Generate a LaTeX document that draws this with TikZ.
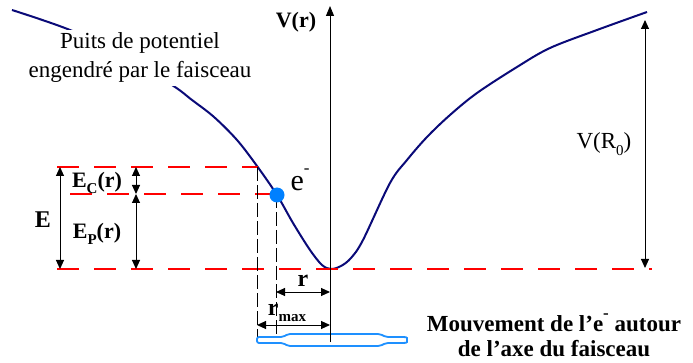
\documentclass[tikz,border=0pt]{standalone}
\usepackage{fontspec}
\setmainfont{LiberationSerif}[Extension=.ttf, UprightFont=*-Regular, BoldFont=*-Bold, ItalicFont=*-Italic, BoldItalicFont=*-BoldItalic]
\usetikzlibrary{arrows.meta,shapes.geometric}
\definecolor{navy}{RGB}{10,10,120}
\definecolor{dotblue}{RGB}{0,128,255}
\definecolor{ellblue}{RGB}{30,144,255}
\newcommand\lowsub[1]{\raisebox{-0.28em}{\fontsize{15}{15}\selectfont #1}}
\newcommand\highsup[1]{\raisebox{0.55em}{\fontsize{17}{17}\selectfont #1}}
\begin{document}
\begin{tikzpicture}[x=1pt,y=-1pt,
  redline/.style={red, line width=2.5pt, dash pattern=on 22pt off 15pt},
  guide/.style={black, line width=0.9pt, dash pattern=on 14pt off 4pt},
  dimarrow/.style={{Triangle[length=9pt,width=8pt]}-{Triangle[length=9pt,width=8pt]}, line width=1pt},
  lbl/.style={inner sep=0pt, font=\bfseries\fontsize{22}{24}\selectfont},
  rlbl/.style={inner sep=0pt, font=\fontsize{23}{24}\selectfont}]
\useasboundingbox (0,0) rectangle (693,363);
% potential curve
\draw[navy, line width=2pt, line join=round] plot[smooth, tension=0.55] coordinates {
 (12,10) (70,30) (122,55) (172,85) (192,100) (214,117) (237,140) (257,166) (277,195)
 (293,223) (310,250) (322,265) (331,269) (341,266) (351,258) (363,240) (390,183)
 (407,160) (427,137) (450,115) (477,93) (517,67) (550,48) (597,30) (647,12)};
\node[fill=white, inner sep=3pt, align=center, font=\fontsize{23}{29}\selectfont] (puits) at (140,58)
  {Puits de potentiel\\engendré par le faisceau};
% red dashed levels
\coordinate (R1a) at (57,167); \coordinate (R1b) at (258,167);
\coordinate (R2a) at (70,194); \coordinate (R2b) at (275,194);
\coordinate (R3a) at (57,269); \coordinate (R3b) at (652,269);
\draw[redline] (R1a) -- (R1b);
\draw[redline] (R2a) -- (R2b);
\draw[redline] (R3a) -- (R3b);
% guides
\coordinate (G1a) at (257,167); \coordinate (G1b) at (257,340);
\coordinate (G2a) at (276,194); \coordinate (G2b) at (276,336);
\draw[guide] (G1a) -- (G1b);
\draw[guide] (G2a) -- (G2b);
% orbit of the electron round the beam axis
\draw[ellblue, line width=1.8pt, rounded corners=2pt]
  (257,337) -- (283,337) -- (288,334) -- (380,334) -- (386,337) -- (400,337)
  to[out=0,in=90] (407,340) to[out=-90,in=0] (400,343) -- (386,343) -- (380,346)
  -- (288,346) -- (283,343) -- (257,343) -- cycle;
% axis
\coordinate (axb) at (330,342); \coordinate (axt) at (330,6);
\draw[line width=1pt, -{Triangle[length=10pt,width=8pt]}] (axb) -- (axt);
\node[lbl] (vr) at (296,22) {V(r)};
% dimension arrows
\coordinate (Et) at (60,167); \coordinate (Eb) at (60,269);
\draw[dimarrow] (Et) -- (Eb);
\node[lbl, font=\bfseries\fontsize{24}{24}\selectfont] (E) at (43,220) {E};
\coordinate (Ct) at (136,167); \coordinate (Cm) at (136,194); \coordinate (Pb) at (136,269);
\draw[dimarrow] (Ct) -- (Cm);
\draw[dimarrow] (Cm) -- (Pb);
\node[lbl] (EC) at (97,183) {E\lowsub{C}(r)};
\node[lbl] (EP) at (97,234) {E\lowsub{P}(r)};
\coordinate (ra) at (276,292); \coordinate (rb) at (330,292);
\draw[dimarrow] (ra) -- (rb);
\node[lbl, font=\bfseries\fontsize{24}{24}\selectfont] (r) at (303,281) {r};
\coordinate (rma) at (257,325); \coordinate (rmb) at (330,325);
\draw[dimarrow] (rma) -- (rmb);
\node[lbl, font=\bfseries\fontsize{24}{24}\selectfont] (rmax) at (287,313) {r\lowsub{max}};
\coordinate (Vt) at (645,20); \coordinate (Vb) at (645,268);
\draw[dimarrow] (Vt) -- (Vb);
\node[rlbl] (VR) at (604,144) {V(R\lowsub{0})};
% electron
\node[circle, fill=dotblue, minimum size=15pt, inner sep=0pt] (dot) at (277,195) {};
\node[inner sep=0pt, font=\fontsize{30}{30}\selectfont] (el) at (300,180) {e\highsup{-}};
\node[inner sep=0pt, align=center, font=\bfseries\fontsize{23}{25}\selectfont] (mouv) at (554,335)
  {Mouvement de l'e\highsup{-} autour\\de l'axe du faisceau};
\end{tikzpicture}
\end{document}
